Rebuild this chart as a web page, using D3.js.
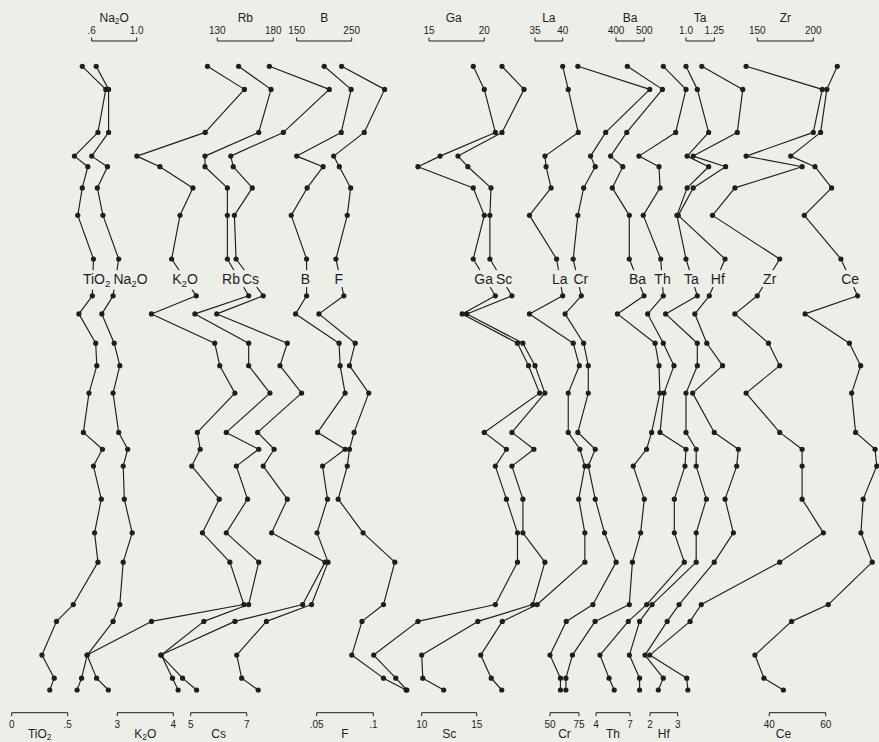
<!DOCTYPE html>
<html>
<head>
<meta charset="utf-8">
<script src="https://cdn.jsdelivr.net/npm/d3@7"></script>
<style>
  html, body { margin: 0; padding: 0; background: #eceee8; }
  svg { display: block; font-family: "Liberation Sans", Arial, sans-serif; }
</style>
</head>
<body>
<svg id="chart" width="879" height="742"></svg>
<script>
// Relative stratigraphic position of each sample (top of section = 0, base = 100)
const samplePos = [0, 3.7, 10.6, 14.4, 16.1, 19.5, 23.9, 30.9, 36.8, 39.7, 44.4, 48.0,
                   52.4, 58.7, 61.4, 64.1, 69.4, 74.8, 79.5, 86.3, 89.0, 94.4, 98.1, 100];
// Level at which the element names interrupt the profiles
const labelPos = 33.8;

const elements = ["TiO2", "Na2O", "K2O", "Rb", "Cs", "B", "F", "Ga", "Sc",
                  "La", "Cr", "Ba", "Th", "Ta", "Hf", "Zr", "Ce"];

// Concentrations, one value per sample, top to bottom
const TiO2 = [0.63, 0.84, 0.77, 0.56, 0.68, 0.63, 0.59, 0.73, 0.72, 0.60, 0.75, 0.76,
              0.69, 0.64, 0.81, 0.73, 0.80, 0.74, 0.77, 0.55, 0.40, 0.27, 0.38, 0.34];
const Na2O = [0.64, 0.75, 0.75, 0.60, 0.74, 0.65, 0.70, 0.84, 0.79, 0.69, 0.80, 0.85,
              0.79, 0.84, 0.92, 0.88, 0.89, 0.96, 0.88, 0.85, 0.79, 0.56, 0.51, 0.47];
const K2O  = [4.61, 5.27, 4.57, 3.35, 3.76, 4.35, 4.12, 3.97, 4.41, 3.61, 4.74, 4.83,
              5.10, 4.43, 4.48, 4.33, 4.82, 4.52, 5.01, 5.26, 3.61, 2.46, 2.63, 2.84];
const Rb   = [149, 178, 167, 119, 119, 139, 139, 139, 158, 110, 158, 158,
              177, 138, 167, 147, 157, 138, 167, 158, 118, 80, 90, 95];
const Cs   = [7.81, 9.95, 8.31, 6.43, 6.52, 7.20, 6.56, 6.62, 7.59, 5.93, 8.45, 8.19,
              8.96, 7.39, 7.98, 7.59, 8.45, 7.89, 9.80, 9.00, 6.58, 3.93, 4.71, 5.21];
const B    = [200, 249, 231, 150, 198, 169, 140, 168, 168, 148, 227, 229,
              238, 188, 238, 197, 206, 187, 207, 177, 95, 41, 50, 80];
const F    = [0.072, 0.110, 0.092, 0.065, 0.070, 0.080, 0.077, 0.067, 0.074, 0.052, 0.084, 0.079,
              0.096, 0.083, 0.079, 0.077, 0.069, 0.091, 0.119, 0.109, 0.090, 0.081, 0.109, 0.129];
const Ga   = [19, 20, 21, 16, 14, 19, 20, 19, 21, 18, 23, 24,
              25, 20, 22, 21, 22, 23, 23, 21, 14, 10, 12, 13];
const Sc   = [17.3, 19.3, 17.3, 13.3, 14.2, 16.3, 16.2, 16.2, 18.2, 14.1, 19.2, 20.3,
              21.2, 18.2, 20.2, 18.2, 19.2, 19.2, 21.2, 20.1, 15.1, 10.0, 10.1, 12.0];
const La   = [40.0, 41.0, 42.8, 36.8, 37.0, 37.9, 34.0, 38.9, 40.0, 34.0, 41.9, 43.0,
              41.0, 41.0, 43.1, 44.0, 42.9, 44.0, 44.0, 35.4, 29.1, 25.2, 27.1, 29.0];
const Cr   = [74, 136, 98, 85, 89, 79, 74, 70, 77, 63, 79, 83,
              83, 74, 89, 83, 89, 97, 107, 87, 64, 50, 59, 59];
const Ba   = [440, 564, 438, 381, 424, 387, 447, 447, 499, 405, 538, 552,
              555, 526, 508, 461, 500, 487, 458, 447, 326, 246, 223, 223];
const Th   = [9.94, 11.94, 11.03, 7.79, 9.56, 9.65, 8.17, 9.71, 9.94, 8.56, 9.94, 10.88,
              10.00, 9.65, 11.94, 11.85, 10.91, 10.91, 11.79, 8.47, 6.85, 4.35, 5.15, 5.61];
const Ta   = [1.00, 1.10, 1.20, 1.01, 1.20, 1.01, 0.92, 1.00, 1.10, 0.82, 1.10, 1.10,
              1.00, 1.00, 1.09, 1.09, 1.18, 1.09, 1.09, 0.70, 0.59, 0.50, 0.59, 0.59];
const Hf   = [3.87, 5.35, 5.15, 3.56, 4.73, 3.56, 3.02, 4.71, 4.14, 3.62, 4.05, 4.62,
              3.54, 4.32, 5.19, 5.13, 4.71, 5.01, 4.32, 3.05, 2.62, 1.82, 2.48, 2.30];
const Zr   = [140, 208, 200, 140, 190, 130, 110, 170, 150, 130, 160, 170,
              140, 170, 190, 190, 190, 209, 170, 100, 90, 54, 87, 88];
const Ce   = [64.1, 60.4, 58.2, 47.6, 56.2, 62.1, 52.4, 65.4, 71.3, 52.7, 68.4, 72.4,
              69.2, 70.6, 77.5, 78.1, 73.3, 72.5, 76.5, 60.9, 47.9, 34.9, 38.1, 45.0];

// Scale-bar end values and their printed labels
const scaleTicks = {
  TiO2: [0, 0.5], Na2O: [0.6, 1.0], K2O: [3, 4], Rb: [130, 180], Cs: [5, 7],
  B: [150, 250], F: [0.05, 0.1], Ga: [15, 20], Sc: [10, 15], La: [35, 40],
  Cr: [50, 75], Ba: [400, 500], Th: [4, 7], Ta: [1.0, 1.25], Hf: [2, 3],
  Zr: [150, 200], Ce: [40, 60]
};
const tickLabels = {
  TiO2: ["0", ".5"], Na2O: [".6", "1.0"], K2O: ["3", "4"], Rb: ["130", "180"], Cs: ["5", "7"],
  B: ["150", "250"], F: [".05", ".1"], Ga: ["15", "20"], Sc: ["10", "15"], La: ["35", "40"],
  Cr: ["50", "75"], Ba: ["400", "500"], Th: ["4", "7"], Ta: ["1.0", "1.25"], Hf: ["2", "3"],
  Zr: ["150", "200"], Ce: ["40", "60"]
};

const values = { TiO2, Na2O, K2O, Rb, Cs, B, F, Ga, Sc, La, Cr, Ba, Th, Ta, Hf, Zr, Ce };

// Layout: which edge carries each scale bar, the bar's pixel span,
// and the horizontal centre of the name inside the section
const layout = {
  TiO2: { side: "bottom", range: [11.7, 67.7],   label: 96.7 },
  Na2O: { side: "top",    range: [91.7, 136.7],  label: 130.5 },
  K2O:  { side: "bottom", range: [117.3, 173.3], label: 185 },
  Rb:   { side: "top",    range: [217.3, 273.3], label: 231 },
  Cs:   { side: "bottom", range: [190.7, 246.7], label: 250.5 },
  B:    { side: "top",    range: [296.7, 351.7], label: 305.5 },
  F:    { side: "bottom", range: [316.7, 373.3], label: 338.7 },
  Ga:   { side: "top",    range: [429, 484.3],   label: 483.7, titleDx: -3 },
  Sc:   { side: "bottom", range: [421.7, 476.7], label: 504.2 },
  La:   { side: "top",    range: [535, 562.7],   label: 559.7 },
  Cr:   { side: "bottom", range: [550, 579],     label: 580.8 },
  Ba:   { side: "top",    range: [616, 644.3],   label: 637.5 },
  Th:   { side: "bottom", range: [596, 630],     label: 662.5 },
  Ta:   { side: "top",    range: [686, 714.3],   label: 691.5 },
  Hf:   { side: "bottom", range: [650, 677.7],   label: 717.8 },
  Zr:   { side: "top",    range: [757.3, 813.3], label: 769.7 },
  Ce:   { side: "bottom", range: [769.3, 825.7], label: 850.2, titleDx: -14 }
};

const ink = "#1e1e1e";
const bg = "#eceee8";
const svg = d3.select("#chart");
svg.append("rect").attr("width", 879).attr("height", 742).attr("fill", bg);

const y = d3.scaleLinear().domain([0, 100]).range([66.3, 690]);

// Writes a chemical name with its digits set as subscripts
function chemText(textSel, name, size, drop) {
  const parts = name.split(/(\d)/).filter(s => s.length);
  let lowered = false;
  parts.forEach(p => {
    const t = textSel.append("tspan").text(p);
    if (/^\d$/.test(p)) {
      t.attr("font-size", size * 0.7).attr("dy", size * drop);
      lowered = true;
    } else if (lowered) {
      t.attr("dy", -size * drop);
      lowered = false;
    }
  });
}

const gLines = svg.append("g");
const gDots = svg.append("g");
const gLabels = svg.append("g");
const gScales = svg.append("g");

elements.forEach(name => {
  const L = layout[name];
  const x = d3.scaleLinear().domain(scaleTicks[name]).range(L.range);
  const pts = values[name].map((v, i) => [x(v), y(samplePos[i])]);

  // profile
  gLines.append("path")
    .attr("d", d3.line()(pts))
    .attr("fill", "none")
    .attr("stroke", ink)
    .attr("stroke-width", 1.15)
    .attr("stroke-linejoin", "round");

  gDots.selectAll(null).data(pts).join("circle")
    .attr("cx", d => d[0]).attr("cy", d => d[1])
    .attr("r", 2.6).attr("fill", ink);

  // element name sitting on the profile, masking the line behind it
  const lg = gLabels.append("g");
  const txt = lg.append("text")
    .attr("x", L.label).attr("y", y(labelPos) + 6.5)
    .attr("text-anchor", "middle")
    .attr("font-size", 14)
    .attr("fill", ink);
  chemText(txt, name, 14, 0.25);
  const bb = txt.node().getBBox();
  lg.insert("rect", "text")
    .attr("x", bb.x - 1).attr("y", bb.y - 0.5)
    .attr("width", bb.width + 2).attr("height", bb.height + 1)
    .attr("fill", bg);

  // scale bar
  const [v0, v1] = scaleTicks[name];
  const x0 = x(v0), x1 = x(v1);
  const top = L.side === "top";
  const barY = top ? 41 : 712.7;
  const tickEnd = top ? 37.5 : 716.2;
  gScales.append("path")
    .attr("d", `M${x0},${tickEnd}V${barY}H${x1}V${tickEnd}`)
    .attr("fill", "none").attr("stroke", ink).attr("stroke-width", 1);

  const tickY = top ? 34 : 727.5;
  gScales.selectAll(null).data([v0, v1]).join("text")
    .attr("x", d => x(d)).attr("y", tickY)
    .attr("text-anchor", "middle")
    .attr("font-size", 10)
    .attr("fill", ink)
    .text((d, i) => tickLabels[name][i]);

  const title = gScales.append("text")
    .attr("x", (x0 + x1) / 2 + (L.titleDx || 0))
    .attr("y", top ? 22 : 737.5)
    .attr("text-anchor", "middle")
    .attr("font-size", 12)
    .attr("fill", ink);
  chemText(title, name, 12, 0.18);
});
</script>
</body>
</html>
